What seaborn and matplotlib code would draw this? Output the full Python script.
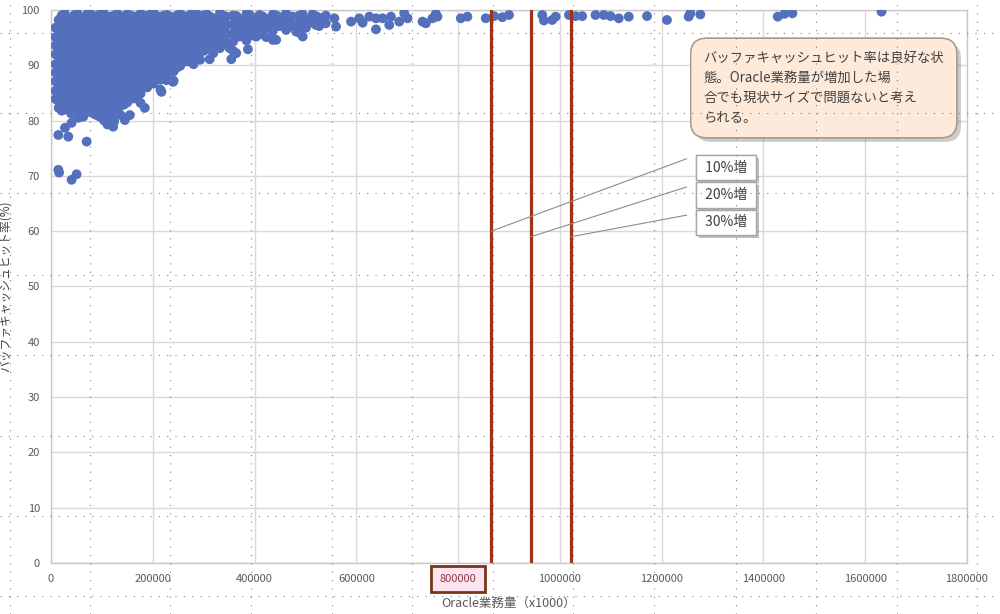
import numpy as np
import pandas as pd
import matplotlib
matplotlib.use("Agg")
import matplotlib.pyplot as plt
import matplotlib.patheffects as pe
from matplotlib.lines import Line2D
import seaborn as sns

# ===============================
# DATA
# ===============================
# dense cloud: column x value -> list of hit ratios
cloud_x = [9000, 21000, 33000, 46000, 59000, 72000, 85000, 98000, 111000, 124000,
           137000, 150000, 163000, 176000, 189000, 202000, 215000, 228000, 241000,
           254000, 267000, 280000, 293000, 306000, 319000, 332000, 345000, 358000,
           371000, 384000, 397000, 410000, 423000, 436000, 449000, 462000, 475000,
           488000, 501000, 514000, 527000, 540000]
cloud_y = [
    [96.8, 95.1, 93.6, 92.0, 90.2, 88.7, 87.1, 85.4, 83.9],
    [99.0, 97.4, 95.9, 94.1, 92.6, 91.0, 89.3, 87.8, 86.2, 84.6, 83.0, 81.8],
    [98.3, 96.7, 95.2, 93.5, 91.9, 90.4, 88.6, 87.0, 85.5, 83.8, 82.4],
    [99.1, 97.6, 96.0, 94.4, 92.8, 91.2, 89.7, 88.1, 86.4, 84.9, 83.2, 81.7],
    [98.6, 97.0, 95.3, 93.7, 92.2, 90.5, 88.9, 87.4, 85.7, 84.1, 82.6],
    [99.4, 97.8, 96.2, 94.6, 93.0, 91.4, 89.8, 88.2, 86.6, 85.0, 83.4, 81.9],
    [98.9, 97.2, 95.6, 94.0, 92.4, 90.8, 89.2, 87.6, 86.0, 84.3, 82.7, 81.2],
    [99.5, 97.9, 96.4, 94.8, 93.2, 91.6, 90.0, 88.3, 86.8, 85.2, 83.5, 81.9, 80.6],
    [98.4, 96.8, 95.1, 93.5, 91.9, 90.3, 88.7, 87.1, 85.5, 83.9, 82.2, 80.5, 79.3],
    [99.0, 97.4, 95.8, 94.2, 92.6, 91.0, 89.4, 87.8, 86.2, 84.6, 82.9, 81.3, 79.8],
    [98.7, 97.1, 95.5, 93.9, 92.3, 90.7, 89.1, 87.5, 85.9, 84.3, 82.7, 81.0],
    [99.2, 97.6, 96.0, 94.4, 92.8, 91.2, 89.6, 88.0, 86.4, 84.8, 83.3],
    [98.5, 96.9, 95.3, 93.7, 92.1, 90.5, 88.9, 87.3, 85.7, 84.0],
    [99.3, 97.7, 96.1, 94.5, 92.9, 91.3, 89.7, 88.1, 86.5, 84.9, 83.2],
    [98.8, 97.2, 95.6, 94.0, 92.4, 90.8, 89.2, 87.6, 86.0],
    [99.4, 97.8, 96.2, 94.6, 93.0, 91.4, 89.8, 88.2, 86.7],
    [98.6, 97.0, 95.4, 93.8, 92.2, 90.6, 89.0, 87.4, 85.6],
    [99.1, 97.5, 95.9, 94.3, 92.7, 91.1, 89.5, 87.8],
    [98.4, 96.8, 95.2, 93.6, 92.0, 90.4, 88.9, 87.2],
    [99.3, 97.7, 96.1, 94.5, 92.9, 91.3, 89.9],
    [98.7, 97.1, 95.5, 93.9, 92.3, 90.7],
    [99.5, 97.9, 96.3, 94.7, 93.1, 91.6, 90.2],
    [98.9, 97.3, 95.7, 94.1, 92.5, 91.0],
    [99.2, 97.6, 96.0, 94.4, 92.9],
    [98.5, 96.9, 95.3, 93.8, 92.2],
    [99.4, 97.8, 96.2, 94.6, 93.1],
    [98.8, 97.2, 95.6, 94.0],
    [99.0, 97.4, 95.8, 94.3, 92.6],
    [98.3, 96.7, 95.2],
    [99.3, 97.7, 96.1, 94.5],
    [98.6, 97.0, 95.4],
    [99.1, 97.5, 96.0],
    [98.4, 96.8, 95.1],
    [99.2, 97.6, 96.2, 94.6],
    [98.7, 97.1],
    [99.4, 97.9, 96.4],
    [98.8, 97.2],
    [99.0, 97.5, 95.9],
    [98.3, 96.8],
    [99.2, 97.7],
    [98.6, 97.1],
    [99.0, 97.6],
]

# in-between columns of the same cloud
mid_x = [15000, 27000, 39500, 52500, 65500, 78500, 91500, 104500, 117500, 130500,
         143500, 156500, 169500, 182500, 195500, 208500, 221500, 234500, 247500,
         260500, 273500, 286500, 299500, 312500, 338500, 364500, 390500, 416500,
         442500, 468500, 494500, 520500]
mid_y = [
    [98.2, 96.5, 94.9, 93.2, 91.6, 90.0, 88.4, 86.8, 85.2, 83.5, 82.3],
    [99.4, 97.9, 96.2, 94.6, 93.0, 91.4, 89.8, 88.2, 86.6, 85.0, 83.4, 82.0],
    [98.5, 96.9, 95.4, 93.8, 92.1, 90.6, 89.0, 87.4, 85.8, 84.2, 82.6, 81.3],
    [99.3, 97.8, 96.2, 94.6, 93.0, 91.4, 89.8, 88.2, 86.6, 85.0, 83.4, 81.9],
    [98.7, 97.2, 95.6, 94.0, 92.4, 90.8, 89.2, 87.6, 86.0, 84.4, 82.8, 81.3],
    [99.2, 97.6, 96.0, 94.4, 92.8, 91.2, 89.6, 88.0, 86.4, 84.8, 83.1, 81.5],
    [98.5, 96.9, 95.3, 93.7, 92.1, 90.5, 88.9, 87.3, 85.7, 84.1, 82.5, 80.9],
    [99.3, 97.7, 96.1, 94.5, 92.9, 91.3, 89.7, 88.1, 86.5, 84.9, 83.2, 81.6, 80.0],
    [98.8, 97.2, 95.6, 94.0, 92.4, 90.8, 89.2, 87.6, 86.0, 84.4, 82.7, 81.0, 79.5],
    [99.3, 97.7, 96.1, 94.5, 92.9, 91.3, 89.7, 88.1, 86.5, 84.9, 83.3, 81.8],
    [98.9, 97.3, 95.7, 94.1, 92.5, 90.9, 89.3, 87.7, 86.1, 84.5, 82.9],
    [99.0, 97.4, 95.8, 94.2, 92.6, 91.0, 89.4, 87.8, 86.2, 84.6],
    [98.9, 97.3, 95.7, 94.1, 92.5, 90.9, 89.3, 87.7, 86.1, 84.5],
    [99.0, 97.4, 95.8, 94.2, 92.6, 91.0, 89.4, 87.8, 86.3],
    [99.2, 97.6, 96.0, 94.4, 92.8, 91.2, 89.6, 88.0],
    [98.9, 97.3, 95.7, 94.1, 92.5, 90.9, 89.3, 87.7],
    [99.0, 97.4, 95.8, 94.2, 92.6, 91.0, 89.4],
    [98.8, 97.2, 95.6, 94.0, 92.4, 90.8, 89.1],
    [99.0, 97.4, 95.8, 94.2, 92.6, 91.0, 89.6],
    [98.9, 97.3, 95.7, 94.1, 92.5, 90.9],
    [99.1, 97.5, 95.9, 94.3, 92.7, 91.1],
    [99.2, 97.6, 96.0, 94.4, 92.8, 91.3],
    [99.0, 97.4, 95.8, 94.2, 92.6],
    [98.8, 97.2, 95.6, 94.1],
    [99.0, 97.4, 95.8, 94.3],
    [98.9, 97.3, 95.7],
    [99.1, 97.5, 95.9],
    [98.8, 97.2, 95.6],
    [99.0, 97.4],
    [98.6, 97.0],
    [99.2, 97.6],
    [98.9, 97.3],
]

# loose points around the cloud
outlier_x = [14400, 34000, 70000, 14400, 16000, 40500, 50300, 27500, 40500, 53600,
             63400, 184300, 145100, 122200, 154900, 226900, 239800, 217000, 311800,
             354300, 364000, 386900, 351000, 403300, 442500, 481700, 494700]
outlier_y = [77.4, 77.1, 76.2, 71.1, 70.6, 69.3, 70.3, 78.7, 79.6, 80.5,
             80.7, 82.3, 80.1, 78.9, 81.0, 87.3, 87.0, 85.2, 91.1,
             91.1, 92.2, 92.9, 93.1, 95.2, 94.6, 96.1, 95.2]

# sparse top row
top_x = [556900, 560200, 589600, 605900, 612400, 625500, 638600, 638600, 651600,
         664700, 668000, 684300, 694100, 700700, 730100, 736600, 749600, 756200,
         759400, 805300, 818300, 854300, 870600, 886900, 900000, 965300, 968600,
         984900, 991600, 1017700, 1030800, 1043800, 1070000, 1086300, 1099400,
         1115700, 1135300, 1171200, 1210400, 1253000, 1256300, 1275900, 1428100,
         1441200, 1456900, 1632000]
top_y = [98.5, 97.0, 97.9, 98.5, 97.7, 98.8, 98.5, 96.5, 98.5,
         97.3, 98.8, 97.9, 99.4, 98.5, 97.9, 97.6, 98.5, 99.3,
         98.8, 98.5, 98.8, 98.5, 98.9, 98.7, 99.1, 99.1, 98.1,
         98.2, 98.8, 99.1, 98.9, 98.9, 99.1, 99.1, 98.9,
         98.5, 98.8, 98.9, 98.2, 98.8, 99.4, 99.2, 98.8,
         99.3, 99.4, 99.7]

# workload +10/20/30%
growth_x = [865000, 943000, 1022000]
growth_labels = ["10%増", "20%増", "30%増"]

x_ticks = [0, 200000, 400000, 600000, 800000, 1000000, 1200000, 1400000, 1600000, 1800000]
y_ticks = [0, 10, 20, 30, 40, 50, 60, 70, 80, 90, 100]

note_text = ("バッファキャッシュヒット率は良好な状\n"
             "態。Oracle業務量が増加した場\n"
             "合でも現状サイズで問題ないと考え\n"
             "られる。")

# ===============================
# TABLE
# ===============================
xs, ys = [], []
for cx, col in zip(cloud_x + mid_x, cloud_y + mid_y):
    xs += [cx] * len(col)
    ys += col
xs += outlier_x + top_x
ys += outlier_y + top_y
df = pd.DataFrame({"workload": xs, "hit": ys})

# ===============================
# PLOT
# ===============================
sns.set_theme(style="white")
plt.rcParams["font.family"] = ["Noto Sans CJK JP", "DejaVu Sans"]

fig = plt.figure(figsize=(10, 6.14), dpi=100)
ax = fig.add_axes([0.051, 0.0831, 0.916, 0.9006])

grid_c = "#d9d9d9"
for v in x_ticks:
    ax.axvline(v, color=grid_c, lw=1, zorder=0)
for v in y_ticks:
    ax.axhline(v, color=grid_c, lw=1, zorder=0)

sns.scatterplot(data=df, x="workload", y="hit", ax=ax, color="#5470bd",
                s=50, edgecolor="none", linewidth=0, zorder=3, legend=False)

for gx in growth_x:
    ax.axvline(gx, color="#a0321a", lw=2.3, zorder=4)

ax.set_xlim(0, 1800000)
ax.set_ylim(0, 100)
ax.set_xticks(x_ticks)
ax.set_xticklabels([str(v) for v in x_ticks])
ax.set_yticks(y_ticks)
ax.set_yticklabels([str(v) for v in y_ticks])
ax.tick_params(length=0, labelsize=8, colors="#595959", pad=8)
for sp in ax.spines.values():
    sp.set_color("#c8c8c8")
    sp.set_linewidth(1)

ax.set_xlabel("Oracle業務量（x1000）", fontsize=9, color="#595959", labelpad=9)
ax.set_ylabel("バッファキャッシュヒット率(%)", fontsize=8.5, color="#404040", labelpad=7)

# highlighted 800000 tick
for lab in ax.get_xticklabels():
    if lab.get_text() == "800000":
        lab.set_color("#8c3b4a")
        lab.set_bbox(dict(boxstyle="square,pad=0.75", fc="#fde3ef", ec="#7a3418", lw=2))

# callout boxes for the growth lines
shadow = [pe.withSimplePatchShadow(offset=(2, -2), shadow_rgbFace="#000000", alpha=0.25), pe.Normal()]
leader_y = [73.1, 68.0, 62.9]
end_y = [60.0, 59.0, 59.0]
box_y = [71.5, 66.5, 61.6]
for gx, lab, ly, ey, by in zip(growth_x, growth_labels, leader_y, end_y, box_y):
    ax.annotate("", xy=(gx, ey), xytext=(1249000, ly),
                arrowprops=dict(arrowstyle="-", color="#8c8c8c", lw=0.8,
                                shrinkA=0, shrinkB=0), zorder=5)
    t = ax.text(1326000, by, " " + lab + " ", ha="center", va="center", fontsize=10,
                color="#404040", zorder=6,
                bbox=dict(boxstyle="square,pad=0.42", fc="white", ec="#a6a6a6", lw=1))
    t.get_bbox_patch().set_path_effects(shadow)

# big note
note = ax.text(1282000, 92.6, note_text, ha="left", va="top", fontsize=9.6, color="#404040",
               linespacing=1.55, zorder=6,
               bbox=dict(boxstyle="round,pad=0.95,rounding_size=1.2", fc="#fdeadb",
                         ec="#a8988a", lw=1))
note.get_bbox_patch().set_path_effects(
    [pe.withSimplePatchShadow(offset=(3, -3), shadow_rgbFace="#000000", alpha=0.2), pe.Normal()])

# dotted slide guides over everything
guide_x = [10, 90, 170, 251, 332, 412, 493, 573, 654, 736, 816, 897, 977]
guide_y = [33, 113, 193, 275, 355, 436, 516, 596]
for gxp in guide_x:
    fig.add_artist(Line2D([gxp / 1000, gxp / 1000], [0, 1], transform=fig.transFigure,
                          color="#808080", lw=0.8, ls=(0, (1, 6.5)), zorder=10))
for gyp in guide_y:
    fig.add_artist(Line2D([0, 1], [1 - gyp / 614, 1 - gyp / 614], transform=fig.transFigure,
                          color="#808080", lw=0.8, ls=(0, (1, 6.5)), zorder=10))

plt.savefig("out.png", dpi=100)
